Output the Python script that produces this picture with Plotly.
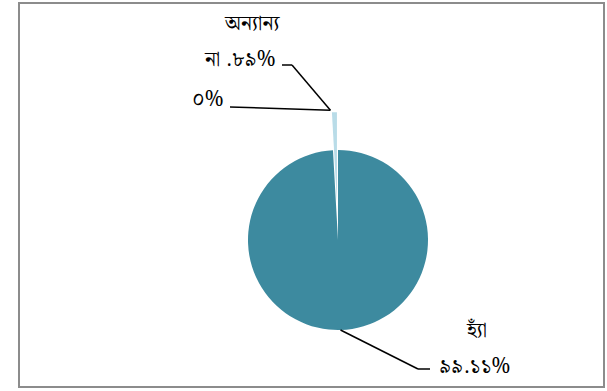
import math
import plotly.graph_objects as go

W, H = 607, 391

# Survey answers and their shares (percent)
categories = ["হ্যাঁ", "না", "অন্যান্য"]
values = [99.11, 0.89, 0.0]
value_labels = ["৯৯.১১%", ".৮৯%", "০%"]

colors = ["#3d8a9f", "#b9dce8", "#7fb3c4"]
pulls = [0, 0.42, 0]

# Pie placement in pixels
cx, cy, r = 338, 240, 90
max_pull = max(pulls)
half = r * (1 + max_pull)
dom_x = [(cx - half) / W, (cx + half) / W]
dom_y = [(H - cy - half) / H, (H - cy + half) / H]

fig = go.Figure(go.Pie(
    labels=categories,
    values=values,
    sort=False,
    direction="clockwise",
    rotation=0,
    pull=pulls,
    marker=dict(colors=colors, line=dict(width=0)),
    textinfo="none",
    hoverinfo="label+percent",
    domain=dict(x=dom_x, y=dom_y),
    showlegend=False,
))

FONT = "Noto Serif Bengali, Noto Sans Bengali, Lohit Bengali, FreeSerif, serif"


def px(x, y):
    return x / W, 1 - y / H


def slice_edge(i):
    """Outer edge point (pixels) of slice i at its middle angle, after pull."""
    total = sum(values)
    start = sum(values[:i]) / total * 360
    mid = start + values[i] / total * 180
    a = math.radians(mid)
    rr = r * (1 + pulls[i])
    return cx + rr * math.sin(a), cy - rr * math.cos(a)


shapes = []


def leader(points):
    for (x0, y0), (x1, y1) in zip(points[:-1], points[1:]):
        ax0, ay0 = px(x0, y0)
        ax1, ay1 = px(x1, y1)
        shapes.append(dict(type="line", xref="paper", yref="paper",
                           x0=ax0, y0=ay0, x1=ax1, y1=ay1,
                           line=dict(color="black", width=1.5)))


yes_pt = slice_edge(0)
no_pt = slice_edge(1)
no_pt = (no_pt[0] - 4, no_pt[1] - 2)

leader([yes_pt, (418, 369), (430, 369)])
leader([(282, 65), (292, 65), no_pt])
leader([(230, 107), no_pt])

# Frame around the chart
shapes.append(dict(type="rect", xref="paper", yref="paper",
                   x0=19 / W, y0=1 - 387 / H, x1=604 / W, y1=1 - 3 / H,
                   line=dict(color="#8c8c8c", width=2)))

annotations = []


def label(text, x, y, anchor="center"):
    ax, ay = px(x, y)
    annotations.append(dict(text=text, x=ax, y=ay, xref="paper", yref="paper",
                            showarrow=False, xanchor=anchor, yanchor="middle",
                            font=dict(family=FONT, size=21, color="black")))


label(categories[2], 252, 24)
label(categories[1] + " " + value_labels[1], 277, 60, "right")
label(value_labels[2], 226, 100, "right")
label(categories[0], 476, 331)
label(value_labels[0], 474, 367)

fig.update_layout(
    width=W, height=H,
    margin=dict(l=0, r=0, t=0, b=0),
    paper_bgcolor="white",
    plot_bgcolor="white",
    shapes=shapes,
    annotations=annotations,
)

fig.write_html("out.html")
